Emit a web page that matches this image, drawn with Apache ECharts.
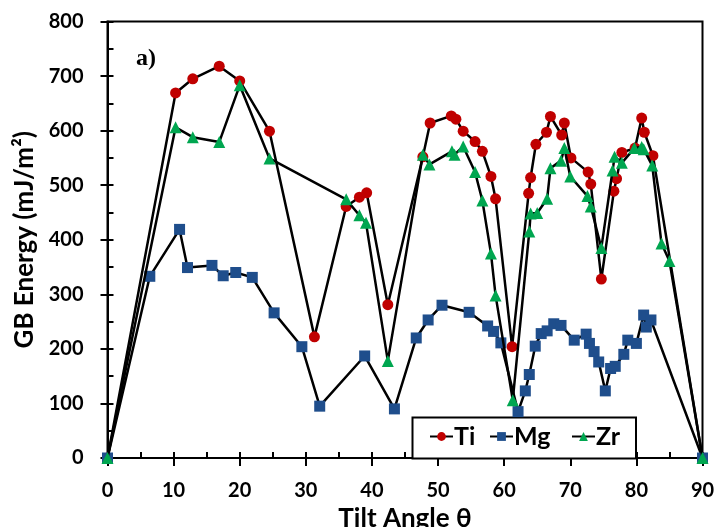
<!DOCTYPE html>
<html>
<head>
<meta charset="utf-8">
<script src="https://cdn.jsdelivr.net/npm/echarts@6/dist/echarts.min.js"></script>
<style>html,body{margin:0;padding:0;background:#fff}#c{width:716px;height:527px}</style>
</head>
<body>
<div id="c"></div>
<script>
const tiAngle  = [0, 10.3, 12.9, 16.9, 20.0, 24.5, 31.3, 36.1, 38.1, 39.2, 42.4, 47.7, 48.8, 52.0, 52.7, 53.8, 55.6, 56.7, 58.0, 58.7, 61.2, 63.7, 64.0, 64.8, 66.4, 67.0, 68.7, 69.1, 70.1, 72.7, 73.1, 74.7, 76.6, 77.0, 77.8, 79.8, 80.8, 81.2, 82.5, 90];
const tiEnergy = [0, 669, 695, 718, 691, 599, 222, 461, 478, 486, 281, 552, 614, 627, 621, 599, 580, 562, 516, 475, 204, 485, 514, 575, 597, 626, 592, 614, 550, 524, 502, 328, 489, 512, 560, 568, 623, 597, 554, 0];

const mgAngle  = [0, 6.4, 10.9, 12.1, 15.8, 17.5, 19.4, 21.9, 25.2, 29.4, 32.1, 38.9, 43.4, 46.7, 48.5, 50.6, 54.7, 57.5, 58.4, 59.5, 62.1, 63.2, 63.8, 64.7, 65.6, 66.5, 67.5, 68.6, 70.6, 72.4, 72.9, 73.6, 74.3, 75.3, 76.1, 76.8, 78.1, 78.7, 80.0, 81.1, 81.5, 82.2, 90];
const mgEnergy = [0, 333, 419, 349, 353, 334, 340, 331, 266, 204, 95, 187, 90, 220, 253, 280, 267, 242, 232, 211, 85, 123, 153, 205, 228, 233, 246, 243, 216, 227, 210, 195, 176, 123, 164, 168, 190, 216, 210, 262, 240, 253, 0];

const zrAngle  = [0, 10.3, 12.9, 16.9, 20.0, 24.5, 36.1, 38.1, 39.1, 42.4, 47.7, 48.7, 52.1, 52.5, 53.8, 55.6, 56.7, 58.0, 58.7, 61.3, 63.8, 64.0, 65.0, 66.5, 67.0, 68.6, 69.1, 70.0, 72.6, 73.1, 74.7, 76.4, 76.7, 77.8, 79.7, 80.8, 81.1, 82.4, 83.8, 85.0, 90];
const zrEnergy = [0, 606, 588, 579, 683, 549, 474, 445, 431, 178, 556, 538, 562, 556, 571, 524, 472, 375, 298, 106, 415, 448, 449, 475, 531, 545, 568, 516, 480, 461, 385, 527, 552, 541, 568, 570, 566, 536, 393, 361, 0];

const seriesNames = ['Ti', 'Mg', 'Zr'];
const xTicks = [0, 10, 20, 30, 40, 50, 60, 70, 80, 90];
const yTicks = [0, 100, 200, 300, 400, 500, 600, 700, 800];

function pairs(xs, ys) { return xs.map((x, i) => [x, ys[i]]); }

const chart = echarts.init(document.getElementById('c'), null, {renderer: 'canvas'});
const FONT = 'Lato';
const legendText = {color: '#000', fontFamily: FONT, fontWeight: 'bold', fontSize: 25, padding: [0, 0, 0, -4]};
function legendFor(name, left) {
  return {data: [name], left: left, top: 424, padding: 0, itemWidth: 23, itemHeight: 11,
          textStyle: legendText, selectedMode: false};
}
chart.setOption({
  animation: false,
  backgroundColor: '#fff',
  grid: {left: 107.5, right: 13.5, top: 21.5, bottom: 69, show: true, borderColor: '#000', borderWidth: 2,
         backgroundColor: 'transparent', containLabel: false, outerBoundsMode: 'none'},
  xAxis: [
    {type: 'value', min: xTicks[0], max: xTicks[xTicks.length - 1], interval: 10,
     axisLine: {show: true, onZero: false, lineStyle: {color: '#000', width: 2}},
     axisTick: {show: true, inside: false, length: 8, lineStyle: {color: '#000', width: 2}},
     axisLabel: {color: '#000', fontFamily: FONT, fontWeight: 'bold', fontSize: 20, margin: 23},
     splitLine: {show: false},
     name: 'Tilt Angle θ', nameLocation: 'middle', nameGap: 40,
     nameTextStyle: {color: '#000', fontFamily: FONT, fontWeight: 'bold', fontSize: 26}},
    {type: 'value', min: 0, max: 90, interval: 5, position: 'bottom',
     axisLine: {show: false}, axisLabel: {show: false}, splitLine: {show: false},
     axisTick: {show: true, inside: true, length: 6, lineStyle: {color: '#000', width: 2}}}
  ],
  yAxis: [
    {type: 'value', min: yTicks[0], max: yTicks[yTicks.length - 1], interval: 100,
     axisLine: {show: true, onZero: false, lineStyle: {color: '#000', width: 2}},
     axisTick: {show: true, inside: false, length: 7, lineStyle: {color: '#000', width: 2}},
     axisLabel: {color: '#000', fontFamily: FONT, fontWeight: 'bold', fontSize: 20, margin: 24},
     splitLine: {show: false},
     name: 'GB Energy (mJ/m²)', nameLocation: 'middle', nameGap: 66, nameRotate: 90,
     nameTextStyle: {color: '#000', fontFamily: FONT, fontWeight: 'bold', fontSize: 26}},
    {type: 'value', min: 0, max: 800, interval: 50, position: 'left',
     axisLine: {show: false}, axisLabel: {show: false}, splitLine: {show: false},
     axisTick: {show: true, inside: true, length: 6, lineStyle: {color: '#000', width: 2}}}
  ],
  legend: [legendFor('Ti', 429), legendFor('Mg', 489), legendFor('Zr', 571)],
  graphic: [
    {type: 'rect', z: 3, shape: {x: 412.5, y: 417.5, width: 223.5, height: 41},
     style: {fill: '#fff', stroke: '#000', lineWidth: 2}},
    {type: 'text', left: 136, top: 47, style: {text: 'a)', fill: '#000', font: 'bold 24px "Liberation Serif"'}}
  ],
  series: [
    {name: 'Ti', type: 'line', data: pairs(tiAngle, tiEnergy), symbol: 'circle', symbolSize: 11,
     lineStyle: {color: '#000', width: 2.5}, itemStyle: {color: '#c00000'}, z: 2},
    {name: 'Mg', type: 'line', data: pairs(mgAngle, mgEnergy), symbol: 'rect', symbolSize: 11,
     lineStyle: {color: '#000', width: 2.5}, itemStyle: {color: '#1f4e8c'}, z: 3},
    {name: 'Zr', type: 'line', data: pairs(zrAngle, zrEnergy), symbol: 'triangle', symbolSize: 12,
     lineStyle: {color: '#000', width: 2.5}, itemStyle: {color: '#00a650'}, z: 4}
  ]
});
</script>
</body>
</html>
